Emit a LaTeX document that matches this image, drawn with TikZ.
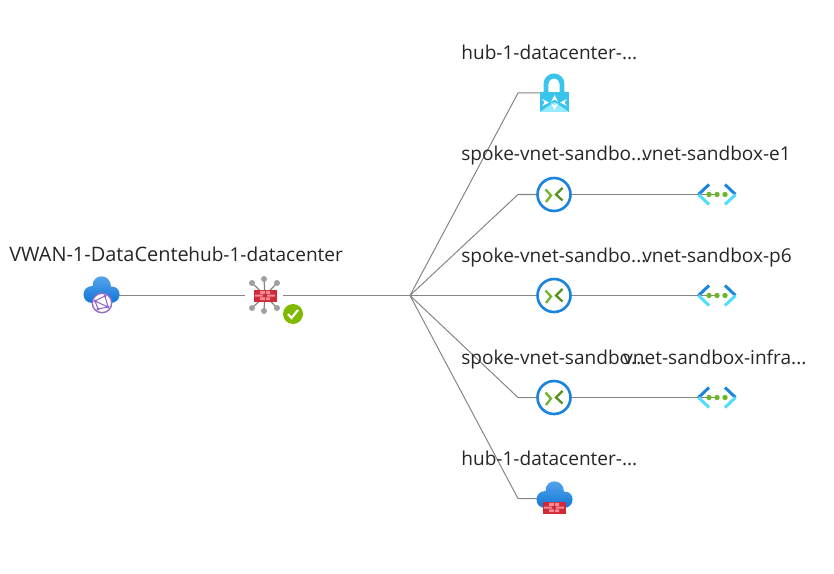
\documentclass[tikz,border=0pt]{standalone}
\usepackage{fontspec}
\setmainfont{Open Sans}
\usepackage{tikz}
\usetikzlibrary{positioning}
\definecolor{linkgray}{HTML}{858585}
\definecolor{spokegray}{HTML}{A0A0A0}
\definecolor{cloudtop}{HTML}{5EA8F0}
\definecolor{cloudbot}{HTML}{0F78D4}
\definecolor{ringblue}{HTML}{1B84DC}
\definecolor{leafgreen}{HTML}{6DB52B}
\definecolor{checkgreen}{HTML}{7FB900}
\definecolor{wallred}{HTML}{CF2A36}
\definecolor{wallpink}{HTML}{F58A98}
\definecolor{lockcyan}{HTML}{38C4EC}
\definecolor{skyblue}{HTML}{50DCFC}
\definecolor{netpurple}{HTML}{9468C8}
\tikzset{
  label/.style={anchor=base west, inner sep=0pt, font=\fontsize{10.85}{13}\selectfont, text=black!85},
  link/.style={draw=linkgray, line width=0.57pt},
  anchorbox/.style={inner sep=0pt, minimum size=2pt, circle},
  pics/cloud/.style={code={
    \path[top color=cloudtop, bottom color=cloudbot]
      (-9,13) .. controls (-21,13) and (-21,-4) .. (-9,-4)
      .. controls (-9,-17) and (9,-17) .. (9.5,-3.5)
      .. controls (21,-4) and (21,13) .. (9,13) -- cycle;
  }},
  pics/wall/.style={code={
    \fill[wallred] (-11.5,-6) rectangle (11.5,6);
    \fill[wallpink] (-5,-4.6) rectangle (5,-1.6) (-10,-0.8) rectangle (-2,1) (2,-0.8) rectangle (10,1) (-5,1.8) rectangle (5,4.6);
    \draw[wallred, line width=0.5pt] (0,-4.6) -- (0,-1.6) (0,1.8) -- (0,4.6);
  }},
  pics/gateway/.style={code={
    \draw[ringblue, line width=1.5pt, fill=white] (0,0) circle (16.5);
    \draw[leafgreen, line width=1.3pt] (-8.5,-5) -- (-3,1) -- (-8,7.5);
    \draw[leafgreen!80!black, line width=1.3pt] (8.5,-6.5) -- (2,0) -- (8.5,6);
  }},
  pics/vnet/.style={code={
    \draw[ringblue, line width=1.7pt] (-8,-10) -- (-18.5,0);
    \draw[skyblue, line width=1.7pt] (-18.5,0) -- (-8,10);
    \draw[ringblue, line width=1.7pt] (8,-10) -- (18.5,0);
    \draw[skyblue, line width=1.7pt] (18.5,0) -- (8,10);
    \foreach \dotx in {-8,0,8}
      \fill[leafgreen] (\dotx,0) circle (2.7);
  }}
}
\begin{document}
\begin{tikzpicture}[x=0.02cm,y=-0.02cm]
  \useasboundingbox (0,0) rectangle (834,574);

  % Root side
  \node[anchorbox] (vwan) at (101,295.5) {};
  \node[anchorbox] (hub) at (265,295.5) {};
  \coordinate (fork) at (410,295.5);

  % Right column
  \node[anchorbox] (vpn) at (554,93) {};
  \node[anchorbox] (gwa) at (554,194.5) {};
  \node[anchorbox] (gwb) at (554,295.5) {};
  \node[anchorbox] (gwc) at (554,397.5) {};
  \node[anchorbox] (fw) at (554,498.5) {};
  \node[anchorbox] (neta) at (717,194.5) {};
  \node[anchorbox] (netb) at (717,295.5) {};
  \node[anchorbox] (netc) at (717,397.5) {};

  % Elbows
  \coordinate (bendvpn) at (518,93);
  \coordinate (benda) at (518,194.5);
  \coordinate (bendc) at (518,397.5);
  \coordinate (bendfw) at (518,498.5);

  % Links
  \draw[link] (vwan) -- (hub);
  \draw[link, line width=1.1pt] (hub) -- (fork);
  \draw[link] (fork) -- (bendvpn) -- (vpn);
  \draw[link] (fork) -- (benda) -- (gwa);
  \draw[link] (fork) -- (gwb);
  \draw[link] (fork) -- (bendc) -- (gwc);
  \draw[link] (fork) -- (bendfw) -- (fw);
  \draw[link] (gwa) -- (neta);
  \draw[link] (gwb) -- (netb);
  \draw[link] (gwc) -- (netc);

  % Virtual wan
  \pic at (101.5,290) {cloud};
  \draw[netpurple, line width=0.8pt, fill=white] (102,303) circle (9.7);
  \draw[netpurple, line width=0.6pt] (95,301) -- (105,296) -- (108,307) -- (98,309) -- cycle (95,301) -- (108,307);
  \fill[netpurple] (95,301) circle (1.6) (105,296) circle (1.6) (108,307) circle (1.6) (98,309) circle (1.6);

  % Hub
  \fill[white] (245,275) rectangle (283,315);
  \foreach \spokex/\spokey in {264/279,252/283,277/283,252/308,277/308,264/311}{
    \draw[linkgray, line width=0.7pt] (hub) -- (\spokex,\spokey);
    \fill[spokegray] (\spokex,\spokey) circle (3);
  }
  \pic at (hub) {wall};
  \fill[checkgreen] (293,314) circle (10);
  \draw[white, line width=1.2pt] (288,314) -- (291.5,318) -- (298,310);

  % Vpn gateway
  \draw[lockcyan, line width=2.8pt] (546,94) -- (546,84) arc (180:360:8) -- (562,94);
  \fill[lockcyan] (540,92) rectangle (569,112);
  \fill[skyblue!60!white] (540,112) -- (554.5,102) -- (569,112) -- cycle;
  \draw[white, line width=0.7pt, -stealth] (554.5,100) -- (554.5,95);
  \draw[white, line width=0.7pt, -stealth] (554.5,105) -- (554.5,110);
  \draw[white, line width=0.7pt, -stealth] (544,102.5) -- (549,102.5);
  \draw[white, line width=0.7pt, -stealth] (565,102.5) -- (560,102.5);

  % Gateways and networks
  \foreach \gwname in {gwa,gwb,gwc}
    \pic at (\gwname) {gateway};
  \foreach \netname in {neta,netb,netc}
    \pic at (\netname) {vnet};

  % Firewall
  \pic at (554.5,495) {cloud};
  \pic at (554,507.5) {wall};

  % Labels
  \node[label, font=\fontsize{11.35}{13}\selectfont] (lvwan) at (9,261) {VWAN-1-DataCente};
  \node[label] (lhub) at (188,261) {hub-1-datacenter};
  \node[label] (lvpn) at (461,60) {hub-1-datacenter-...};
  \node[label] (lgwa) at (461,161) {spoke-vnet-sandbo...};
  \node[label] (lneta) at (642,161) {vnet-sandbox-e1};
  \node[label] (lgwb) at (461,262) {spoke-vnet-sandbo...};
  \node[label] (lnetb) at (642,262) {vnet-sandbox-p6};
  \node[label] (lgwc) at (461,364) {spoke-vnet-sandbo...};
  \node[label] (lnetc) at (623,364) {vnet-sandbox-infra...};
  \node[label] (lfw) at (461,465) {hub-1-datacenter-...};
\end{tikzpicture}
\end{document}
